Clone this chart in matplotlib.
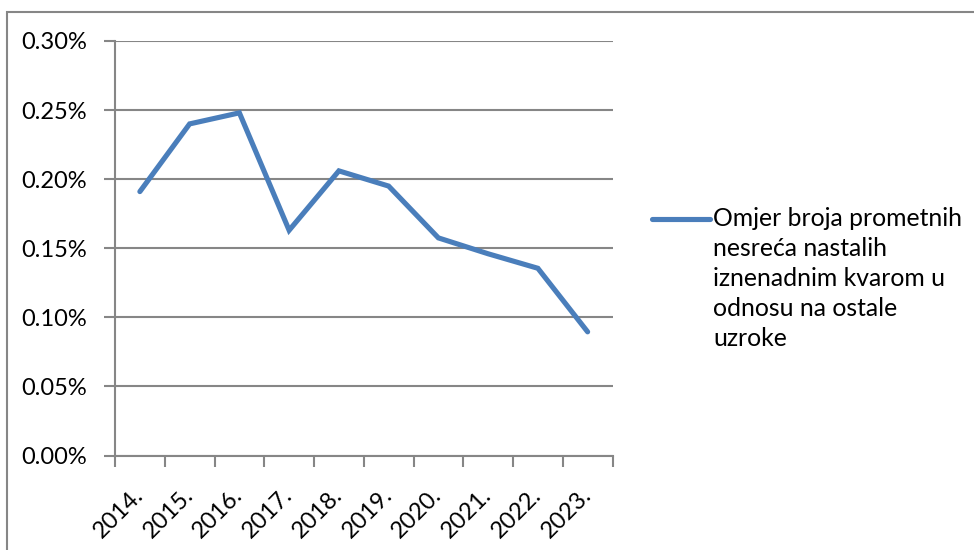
import numpy as np
import matplotlib.pyplot as plt
from matplotlib.lines import Line2D
from matplotlib.patches import Rectangle
from matplotlib.ticker import FuncFormatter, MultipleLocator

years = ['2014.', '2015.', '2016.', '2017.', '2018.',
         '2019.', '2020.', '2021.', '2022.', '2023.']
ratio = [0.191, 0.240, 0.248, 0.163, 0.206,
         0.195, 0.1575, 0.146, 0.1355, 0.0895]
legend_lines = ['Omjer broja prometnih', 'nesreća nastalih',
                'iznenadnim kvarom u', 'odnosu na ostale', 'uzroke']

plt.rcParams['font.family'] = ['Lato', 'DejaVu Sans']
fs = 17
fs_leg = 17.8
grey = '#868686'
blue = '#4A7EBB'

fig = plt.figure(figsize=(9.74, 5.5), dpi=100)
ax = fig.add_axes([115 / 974, 1 - 455.5 / 550, 497.5 / 974, 414.5 / 550])

x = np.arange(len(years))
ax.plot(x, ratio, color=blue, lw=3.7, solid_capstyle='round', solid_joinstyle='miter')

ax.set_xlim(-0.5, len(years) - 0.5)
ax.set_ylim(0, 0.30)
ax.yaxis.set_major_locator(MultipleLocator(0.05))
ax.yaxis.set_major_formatter(FuncFormatter(lambda v, p: f'{v:.2f}%'))
ax.grid(axis='y', color=grey, lw=1.5)
ax.set_axisbelow(True)

ax.set_xticks(x)
ax.set_xticklabels(years, rotation=45, ha='right', va='center', rotation_mode='anchor')
ax.set_xticks(np.arange(-0.5, len(years)), minor=True)
ax.tick_params(axis='x', which='major', length=0, pad=26, labelsize=fs)
ax.tick_params(axis='x', which='minor', length=8, width=1.5, color=grey)
ax.tick_params(axis='y', length=8, width=1.5, color=grey, pad=12, labelsize=fs)

for side in ['top', 'right']:
    ax.spines[side].set_visible(False)
for side in ['left', 'bottom']:
    ax.spines[side].set_color(grey)
    ax.spines[side].set_linewidth(1.5)

# legend drawn by hand so the line sits beside the first line of text
fig.add_artist(Line2D([652 / 974, 710 / 974], [1 - 219 / 550, 1 - 219 / 550],
                      transform=fig.transFigure, color=blue, lw=3.7,
                      solid_capstyle='round'))
for i, txt in enumerate(legend_lines):
    fig.text(713 / 974, 1 - (226 + 30 * i) / 550, txt, fontsize=fs_leg,
             ha='left', va='baseline')

# chart border
fig.add_artist(Rectangle((7 / 974, -0.05), 1.1, 1.05 - 12 / 550,
                         transform=fig.transFigure, fill=False,
                         edgecolor=grey, lw=1.5))

fig.savefig('out.png', dpi=100)
